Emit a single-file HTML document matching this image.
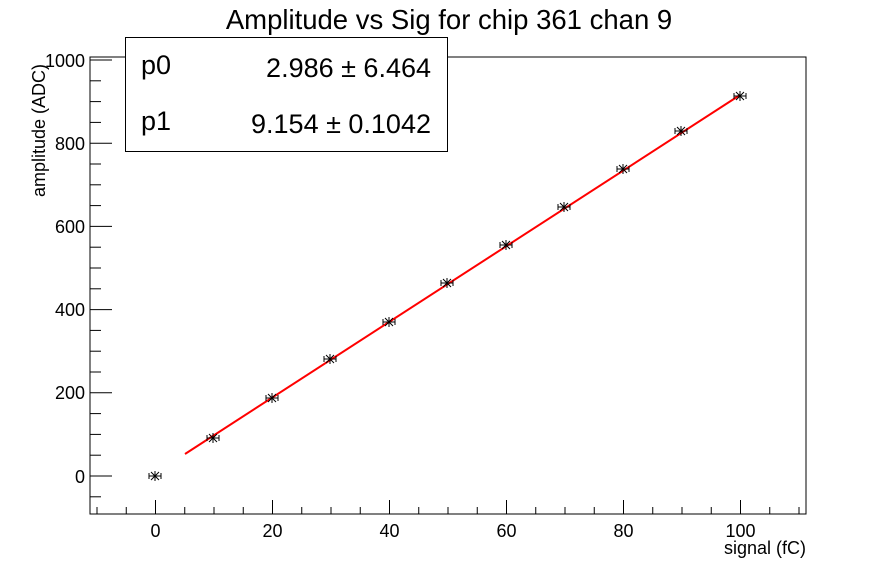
<!DOCTYPE html>
<html><head><meta charset="utf-8"><style>
body{margin:0;background:#fff;}
svg{display:block;font-family:"Liberation Sans",Arial,sans-serif;}
</style></head><body>
<svg width="896" height="572" viewBox="0 0 896 572" xmlns="http://www.w3.org/2000/svg">
<rect width="896" height="572" fill="#fff"/>
<text x="449" y="29" font-size="27.5" text-anchor="middle">Amplitude vs Sig for chip 361 chan 9</text>
<rect x="90" y="57" width="716" height="457" fill="none" stroke="#000" stroke-width="1"/>
<g stroke="#000" stroke-width="1" id="ticks"></g>
<g font-size="18" text-anchor="middle">
<text x="155.5" y="537">0</text><text x="272.5" y="537">20</text><text x="389.5" y="537">40</text>
<text x="506.5" y="537">60</text><text x="623.5" y="537">80</text><text x="740.5" y="537">100</text>
</g>
<g font-size="18" text-anchor="end">
<text x="85" y="483">0</text><text x="85" y="399">200</text><text x="85" y="316">400</text>
<text x="85" y="233">600</text><text x="85" y="150">800</text><text x="85" y="67">1000</text>
</g>
<text x="806" y="554" font-size="18" text-anchor="end">signal (fC)</text>
<text transform="translate(45,197) rotate(-90)" font-size="18" text-anchor="start">amplitude (ADC)</text>
<polyline points="185,454 740,95" stroke="#f00" stroke-width="2" fill="none"/>
<g id="pts" stroke="#000" stroke-width="1" fill="none"></g>
<rect x="125.5" y="37.5" width="322" height="114" fill="#fff" stroke="#000" stroke-width="1"/>
<text x="141" y="74" font-size="27">p0</text>
<text x="431" y="77" font-size="27" text-anchor="end">2.986 ± 6.464</text>
<text x="141" y="130" font-size="27">p1</text>
<text x="431" y="133" font-size="27" text-anchor="end">9.154 ± 0.1042</text>
<script>
var ns="http://www.w3.org/2000/svg";
function ln(g,x1,y1,x2,y2){var l=document.createElementNS(ns,"line");l.setAttribute("x1",x1);l.setAttribute("y1",y1);l.setAttribute("x2",x2);l.setAttribute("y2",y2);g.appendChild(l);}
var t=document.getElementById("ticks");
for(var v=-10;v<=110;v+=5){var x=155.5+v*5.85;var maj=(v%20==0);ln(t,x,514,x,maj?500:507);}
for(var v=-50;v<=1000;v+=50){var y=476-v*0.416;if(y<57)continue;var maj=(v%200==0);ln(t,90,y,maj?112:101,y);}
var p=document.getElementById("pts");
var P=[[155,476],[213,438],[272,398],[330,359],[389,322],[447,283],[506,245],[564,207],[623,169],[681,131],[740,96]];
P.forEach(function(q){var x=q[0],y=q[1];
ln(p,x-6,y,x+6,y);ln(p,x-6,y-3,x-6,y+3);ln(p,x+6,y-3,x+6,y+3);
ln(p,x,y-5,x,y+5);ln(p,x-4,y-4,x+4,y+4);ln(p,x-4,y+4,x+4,y-4);});
</script>
</svg>
</body></html>
